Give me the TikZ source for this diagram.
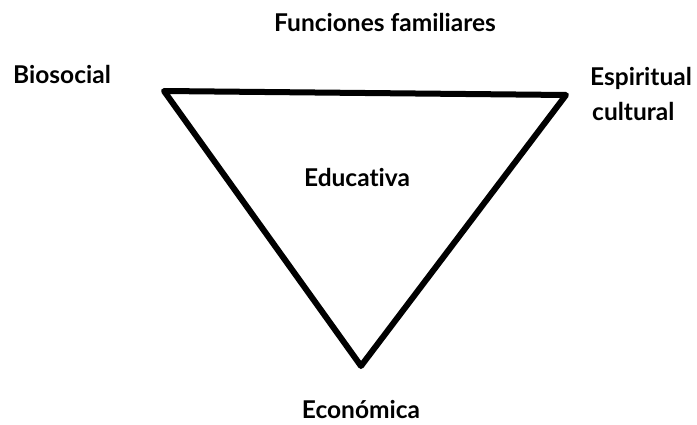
\documentclass[tikz,border=0pt]{standalone}
\usepackage{fontspec}
\setmainfont{Lato}[Ligatures={NoCommon}]
\begin{document}
\begin{tikzpicture}[x=1pt,y=-1pt,
  lbl/.style={font=\bfseries\fontsize{24.5}{28}\selectfont, inner sep=0pt, align=left},
  edge/.style={line width=6pt, line join=round, line cap=round}]
\useasboundingbox (0,0) rectangle (697,425);
\coordinate (tl) at (164,91);
\coordinate (tr) at (566,95);
\coordinate (bt) at (361,366);
\draw[edge] (tl) -- (tr) -- (bt) -- cycle;
\node[lbl] (fun) at (385,22) {Funciones familiares};
\node[lbl] (bio) at (62,74) {Biosocial};
\node[lbl, anchor=west] (esp) at (590,78) {Espiritual};
\node[lbl, anchor=west] (cul) at (592,111) {cultural};
\node[lbl] (edu) at (357,177) {Educativa};
\node[lbl] (eco) at (361,410) {Económica};
\end{tikzpicture}
\end{document}
